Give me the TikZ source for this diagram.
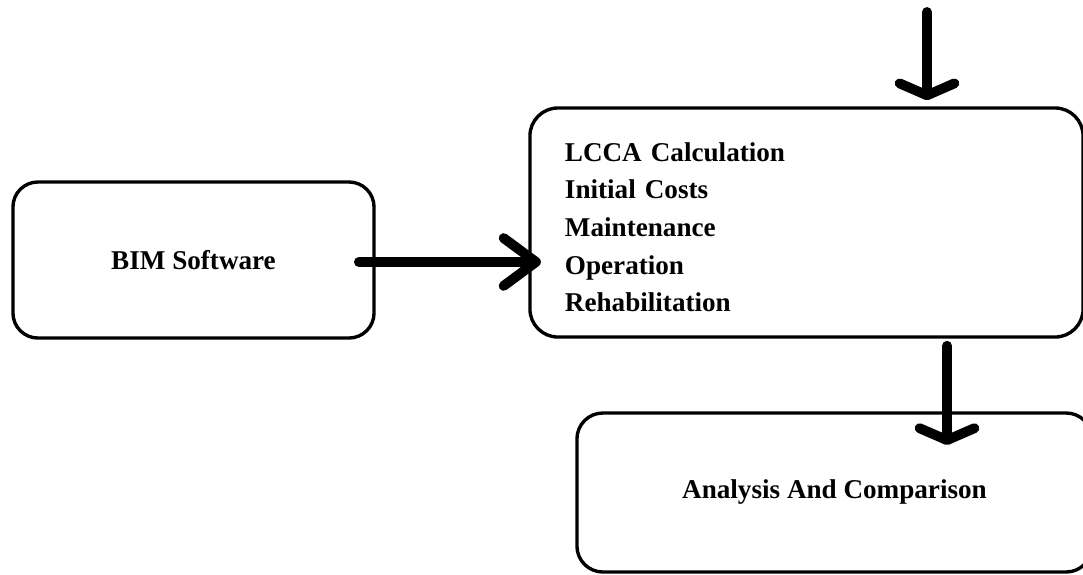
\documentclass[tikz,border=0pt]{standalone}
\usepackage{fontspec}
\setmainfont{Liberation Serif}
\usepackage{tikz}
\usetikzlibrary{positioning,arrows.meta}

\begin{document}
\begin{tikzpicture}[
  x=0.025cm, y=-0.025cm,
  font=\fontsize{19.3}{26.8}\selectfont\bfseries,
  block/.style={draw, line width=2.4pt, rounded corners=0.625cm, align=center},
  arr/.style={-{Straight Barb[length=8.5pt, width=39pt, round]}, line width=7pt, line cap=round},
  longarr/.style={arr, -{Straight Barb[length=23pt, width=34pt, round]}}]
\useasboundingbox (0,0) rectangle (1083,574);
\clip (0,0) rectangle (1083,574);
\node[block, minimum width=9.025cm, minimum height=3.9cm] (bim) at (193.5,260) {BIM Software};
\node[block, rounded corners=0.7cm, minimum width=13.825cm, minimum height=5.725cm,
      align=left, text width=12.075cm, inner xsep=0.875cm, text height=20pt] (lcca) at (806.5,222.5)
  {LCCA Calculation\\Initial Costs\\Maintenance\\Operation\\Rehabilitation};
\node[block, rounded corners=0.65cm, minimum width=12.875cm, minimum height=3.975cm] (ana) at (834.5,492.5) {Analysis And Comparison};
\coordinate (src) at (927,12);
\coordinate (dn) at (947,0);
\draw[arr] (src) -- ([yshift=4.3pt]src |- lcca.north);
\draw[longarr] ([xshift=-12pt, yshift=-1.4pt]bim.east) -- ([xshift=9pt, yshift=-1.4pt]lcca.west |- bim.east);
\draw[arr] ([yshift=-5pt]lcca.south -| dn) -- ([yshift=-24pt]ana.north -| dn);
\end{tikzpicture}
\end{document}
